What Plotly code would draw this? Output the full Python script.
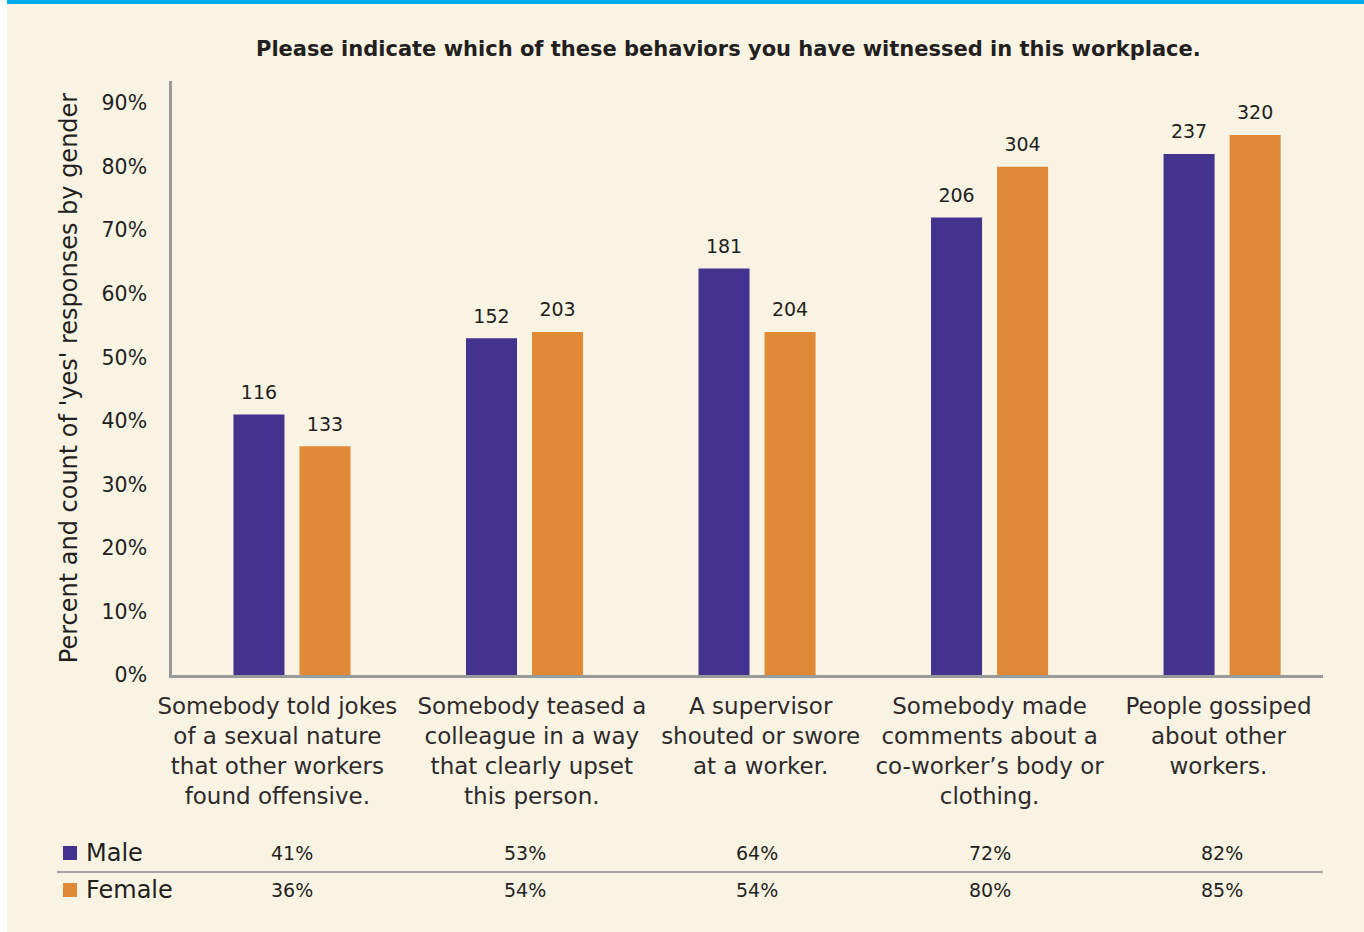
import plotly.graph_objects as go

categories = [
    "Somebody told jokes<br>of a sexual nature<br>that other workers<br>found offensive.",
    "Somebody teased a<br>colleague in a way<br>that clearly upset<br>this person.",
    "A supervisor<br>shouted or swore<br>at a worker.",
    "Somebody made<br>comments about a<br>co-worker’s body or<br>clothing.",
    "People gossiped<br>about other<br>workers.",
]
male_pct = [41, 53, 64, 72, 82]
female_pct = [36, 54, 54, 80, 85]
male_count = [116, 152, 181, 206, 237]
female_count = [133, 203, 204, 304, 320]
y_ticks = [0, 10, 20, 30, 40, 50, 60, 70, 80, 90]

PURPLE = "#44328f"
ORANGE = "#e08a38"
BG = "#f9f3e4"
TXT = "#231f20"
FONT = "DejaVu Sans"

W, H = 1364, 932
L, R, T, B = 172, 41, 81, 257
pw = W - L - R
ph = H - T - B

def px(x):
    return (x - L) / pw

def py(y):
    return (H - B - y) / ph

# small horizontal nudges of the wrapped labels (in non-breaking spaces)
NB = "\u00a0"
pad_right = [4, 0, 0, 0, 1]
pad_left = [0, 2, 1, 0, 0]
tick_text = [
    "<br>".join(NB * pad_left[i] + line + NB * pad_right[i] for line in c.split("<br>"))
    for i, c in enumerate(categories)
]

xs = list(range(len(categories)))
GAP = 0.432

fig = go.Figure()
for name, vals, color in (("Male", male_pct, PURPLE), ("Female", female_pct, ORANGE)):
    fig.add_trace(go.Bar(
        x=xs, y=vals, name=name, offsetgroup=name, alignmentgroup="g",
        marker=dict(color=color, line=dict(width=0)),
    ))
for name, vals, counts in (("Male", male_pct, male_count),
                           ("Female", female_pct, female_count)):
    fig.add_trace(go.Scatter(
        x=xs, y=vals, name=name + " count", offsetgroup=name, alignmentgroup="g",
        mode="markers+text", text=[str(c) for c in counts], textposition="top center",
        marker=dict(size=16, opacity=0), hoverinfo="skip",
        textfont=dict(family=FONT, size=19, color=TXT), cliponaxis=False,
    ))

annotations = []
annotations.append(dict(
    text="<b>Please indicate which of these behaviors you have witnessed in this workplace.</b>",
    xref="paper", yref="paper", x=px(728), y=py(49), xanchor="center", yanchor="middle",
    showarrow=False, font=dict(family=FONT, size=21, color=TXT),
))
for i in xs:
    annotations.append(dict(text=f"{male_pct[i]}%", xref="x", yref="paper", x=i, y=py(853),
                            xanchor="center", yanchor="middle", showarrow=False,
                            font=dict(family=FONT, size=19, color=TXT)))
    annotations.append(dict(text=f"{female_pct[i]}%", xref="x", yref="paper", x=i, y=py(890),
                            xanchor="center", yanchor="middle", showarrow=False,
                            font=dict(family=FONT, size=19, color=TXT)))
for name, yy in (("Male", 853), ("Female", 890)):
    annotations.append(dict(text=name, xref="paper", yref="paper", x=px(84), y=py(yy),
                            xanchor="left", yanchor="middle", showarrow=False,
                            font=dict(family=FONT, size=24, color=TXT)))

shapes = [
    dict(type="rect", xref="paper", yref="paper", x0=px(0), x1=px(7), y0=py(H), y1=py(0),
         fillcolor="white", line=dict(width=0), layer="below"),
    dict(type="rect", xref="paper", yref="paper", x0=px(7), x1=px(W), y0=py(4), y1=py(0),
         fillcolor="#00aeef", line=dict(width=0)),
    dict(type="line", xref="paper", yref="paper", x0=px(57), x1=px(1323), y0=py(872), y1=py(872),
         line=dict(color="#8c8c8c", width=1.5)),
    dict(type="rect", xref="paper", yref="paper", x0=px(63), x1=px(77), y0=py(860), y1=py(846),
         fillcolor=PURPLE, line=dict(width=0)),
    dict(type="rect", xref="paper", yref="paper", x0=px(63), x1=px(77), y0=py(897), y1=py(883),
         fillcolor=ORANGE, line=dict(width=0)),
]

fig.update_layout(
    width=W, height=H,
    margin=dict(l=L, r=R, t=T, b=B, pad=0),
    paper_bgcolor=BG, plot_bgcolor=BG,
    showlegend=False,
    barmode="group", bargap=GAP, bargroupgap=0.227,
    scattermode="group", scattergap=GAP,
    annotations=annotations, shapes=shapes,
    font=dict(family=FONT, color=TXT),
)
fig.update_xaxes(
    tickmode="array", tickvals=xs, ticktext=tick_text, tickangle=0,
    range=[-0.516, 4.434], showgrid=False, zeroline=False,
    showline=True, linecolor="#9a9a9a", linewidth=2.5,
    ticks="outside", ticklen=9, tickcolor="rgba(0,0,0,0)",
    tickfont=dict(family=FONT, size=23, color="#2e2a2b"),
)
fig.update_yaxes(
    range=[0, 93.5], tickmode="array", tickvals=y_ticks,
    ticktext=[f"{v}%" for v in y_ticks], showgrid=False, zeroline=False,
    showline=True, linecolor="#9a9a9a", linewidth=2.5,
    ticks="outside", ticklen=18, tickcolor="rgba(0,0,0,0)",
    tickfont=dict(family=FONT, size=20.5, color=TXT),
    title=dict(text="Percent and count of 'yes' responses by gender",
               font=dict(family=FONT, size=24, color=TXT), standoff=18),
)

fig.write_html("out.html", config={"displayModeBar": False},
               post_script="document.body.style.margin='0';")
